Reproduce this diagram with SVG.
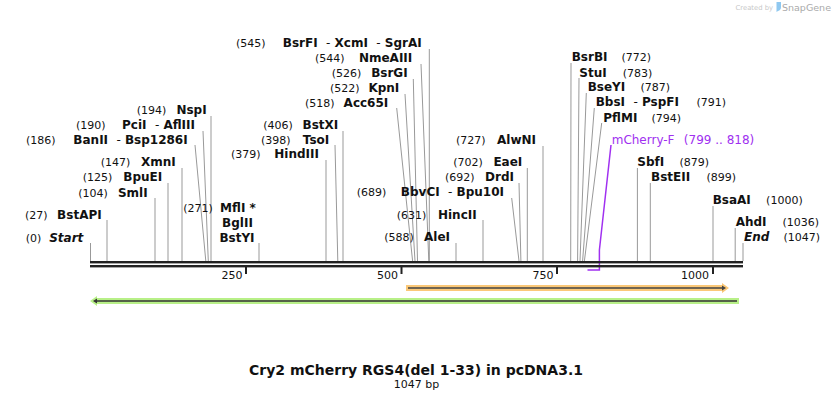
<svg xmlns="http://www.w3.org/2000/svg" width="834" height="400" viewBox="0 0 834 400">
<style>
text{font-family:"DejaVu Sans",Verdana,sans-serif;fill:#111;white-space:pre}
.n{font-size:11px}
.e{font-size:12px;font-weight:bold}
.h{font-weight:normal}
.it{font-style:italic}
.r{text-anchor:end}
.m{text-anchor:middle}
.ln{stroke:#999;stroke-width:1;fill:none}
.tk{font-size:11px}
.p{fill:#a030f0}
</style>
<rect width="834" height="400" fill="#fff"/>
<g id="logo">
<text x="773" y="10" class="r" style="font-size:6.8px;fill:#c8c8c8">Created by</text>
<path d="M776.5,2 h4.5 v5 q0,3 -3,4 l-1.5,1 z" fill="#8fc8f0"/>
<text x="782" y="11" style="font-size:9.5px;fill:#aaa">SnapGene</text>
</g>
<g id="connectors">
<line class="ln" x1="211" y1="116" x2="211" y2="261"/>
<line class="ln" x1="203" y1="131" x2="208.3" y2="261"/>
<line class="ln" x1="195" y1="145" x2="205.8" y2="261"/>
<line class="ln" x1="182" y1="168" x2="182" y2="261"/>
<line class="ln" x1="168" y1="183" x2="168" y2="261"/>
<line class="ln" x1="155" y1="198" x2="155" y2="261"/>
<line class="ln" x1="107" y1="220" x2="107" y2="261"/>
<line class="ln" x1="90.5" y1="243" x2="90.5" y2="261"/>
<line class="ln" x1="259" y1="243" x2="259" y2="261"/>
<line class="ln" x1="343" y1="131" x2="343" y2="261"/>
<line class="ln" x1="335" y1="145" x2="337.8" y2="261"/>
<line class="ln" x1="326" y1="160" x2="326" y2="261"/>
<line class="ln" x1="429.3" y1="49" x2="429.3" y2="261"/>
<line class="ln" x1="421" y1="64" x2="428.8" y2="261"/>
<line class="ln" x1="413.3" y1="79" x2="417.5" y2="261"/>
<line class="ln" x1="405" y1="94" x2="415" y2="261"/>
<line class="ln" x1="396.7" y1="108" x2="412.6" y2="261"/>
<line class="ln" x1="543" y1="146" x2="543" y2="261"/>
<line class="ln" x1="527.3" y1="168" x2="527.3" y2="261"/>
<line class="ln" x1="519" y1="183" x2="520.9" y2="261"/>
<line class="ln" x1="511.7" y1="198" x2="519" y2="261"/>
<line class="ln" x1="483" y1="220" x2="483" y2="261"/>
<line class="ln" x1="456" y1="243" x2="456" y2="261"/>
<line class="ln" x1="571" y1="63" x2="570.7" y2="261"/>
<line class="ln" x1="579" y1="78" x2="577.6" y2="261"/>
<line class="ln" x1="586.3" y1="93" x2="580" y2="261"/>
<line class="ln" x1="594.3" y1="108" x2="582.6" y2="261"/>
<line class="ln" x1="601.7" y1="123" x2="584.4" y2="261"/>
<line class="ln" x1="637.4" y1="168" x2="637.4" y2="261"/>
<line class="ln" x1="650.3" y1="183" x2="650.3" y2="261"/>
<line class="ln" x1="713" y1="206" x2="713" y2="261"/>
<line class="ln" x1="735.2" y1="228" x2="735.2" y2="261"/>
<line class="ln" x1="743" y1="243" x2="743" y2="261"/>
<polyline points="611,145 599.4,250 599.4,270 587.5,270" fill="none" stroke="#a030f0" stroke-width="1.5"/>
</g>
<g id="backbone">
<rect x="90" y="261" width="653" height="2.4" fill="#222"/>
<rect x="90" y="265" width="653" height="2.4" fill="#222"/>
<rect x="245" y="267" width="2" height="7" fill="#222"/>
<rect x="400.5" y="267" width="2" height="7" fill="#222"/>
<rect x="556" y="267" width="2" height="7" fill="#222"/>
<rect x="712" y="267" width="2" height="7" fill="#222"/>
<text class="tk r" x="242.5" y="278.5">250</text>
<text class="tk r" x="398" y="278.5">500</text>
<text class="tk r" x="553.5" y="278.5">750</text>
<text class="tk r" x="709" y="278.5">1000</text>
</g>
<g id="feature-orange">
<path d="M406,285 H722 V283 L729,288 L722,293 V291 H406 Z" fill="#fbc878"/>
<path d="M408,287.2 H722 V285.5 L726,288 L722,290.5 V288.8 H408 Z" fill="#444"/>
</g>
<g id="feature-green">
<path d="M739,298 H97 V296 L90,301 L97,306 V304 H739 Z" fill="#b8f088"/>
<path d="M737,300.2 H97 V298.5 L93,301 L97,303.5 V301.8 H737 Z" fill="#333"/>
</g>
<g id="NspI"><text class="n" x="136.7" y="114">(194)</text><text class="e r" x="206.7" y="114">NspI</text></g>
<g id="PciI"><text class="n" x="76" y="129">(190)</text><text class="e r" x="195" y="129">PciI  <tspan class="h">-</tspan> AflIII</text></g>
<g id="BanII"><text class="n" x="26" y="143.5">(186)</text><text class="e r" x="187.7" y="143.5">BanII  <tspan class="h">-</tspan> Bsp1286I</text></g>
<g id="XmnI"><text class="n" x="100.7" y="166">(147)</text><text class="e r" x="175.7" y="166">XmnI</text></g>
<g id="BpuEI"><text class="n" x="82.7" y="181">(125)</text><text class="e r" x="162.3" y="181">BpuEI</text></g>
<g id="SmlI"><text class="n" x="78.3" y="196.5">(104)</text><text class="e r" x="147.7" y="196.5">SmlI</text></g>
<g id="BstAPI"><text class="n" x="25" y="218.5">(27)</text><text class="e r" x="101.7" y="218.5">BstAPI</text></g>
<g id="Start"><text class="n" x="25.7" y="241.5">(0)</text><text class="e it r" x="83.3" y="241.5">Start</text></g>
<g id="MflI"><text class="n" x="183.3" y="212">(271)</text><text class="e m" x="238" y="212">MflI *</text><text class="e m" x="237.5" y="226.5">BglII</text><text class="e m" x="237" y="241.5">BstYI</text></g>
<g id="BstXI"><text class="n" x="263.3" y="129">(406)</text><text class="e r" x="338.3" y="129">BstXI</text></g>
<g id="TsoI"><text class="n" x="261" y="143.5">(398)</text><text class="e r" x="329.3" y="143.5">TsoI</text></g>
<g id="HindIII"><text class="n" x="231" y="158">(379)</text><text class="e r" x="319" y="158">HindIII</text></g>
<g id="BsrFI"><text class="n" x="236" y="47">(545)</text><text class="e r" x="421.7" y="47">BsrFI  <tspan class="h">-</tspan> XcmI  <tspan class="h">-</tspan> SgrAI</text></g>
<g id="NmeAIII"><text class="n" x="315" y="62">(544)</text><text class="e r" x="412.3" y="62">NmeAIII</text></g>
<g id="BsrGI"><text class="n" x="331.7" y="77">(526)</text><text class="e r" x="407.7" y="77">BsrGI</text></g>
<g id="KpnI"><text class="n" x="330" y="92">(522)</text><text class="e r" x="399.3" y="92">KpnI</text></g>
<g id="Acc65I"><text class="n" x="305" y="106.5">(518)</text><text class="e r" x="388.3" y="106.5">Acc65I</text></g>
<g id="AlwNI"><text class="n" x="456" y="143.5">(727)</text><text class="e r" x="536" y="143.5">AlwNI</text></g>
<g id="EaeI"><text class="n" x="453.3" y="166">(702)</text><text class="e r" x="522.3" y="166">EaeI</text></g>
<g id="DrdI"><text class="n" x="445" y="181">(692)</text><text class="e r" x="514" y="181">DrdI</text></g>
<g id="BbvCI"><text class="n" x="356.7" y="196">(689)</text><text class="e r" x="504" y="196">BbvCI  <tspan class="h">-</tspan> Bpu10I</text></g>
<g id="HincII"><text class="n" x="396.7" y="218.5">(631)</text><text class="e r" x="476.7" y="218.5">HincII</text></g>
<g id="AleI"><text class="n" x="384.3" y="241">(588)</text><text class="e r" x="450" y="241">AleI</text></g>
<g id="BsrBI"><text class="e" x="571.7" y="61">BsrBI</text><text class="n r" x="651" y="61">(772)</text></g>
<g id="StuI"><text class="e" x="579.3" y="76.5">StuI</text><text class="n r" x="652.3" y="76.5">(783)</text></g>
<g id="BseYI"><text class="e" x="587.7" y="91">BseYI</text><text class="n r" x="670" y="91">(787)</text></g>
<g id="BbsI"><text class="e" x="595.7" y="106">BbsI  <tspan class="h">-</tspan> PspFI</text><text class="n r" x="726" y="106">(791)</text></g>
<g id="PflMI"><text class="e" x="603.3" y="121.5">PflMI</text><text class="n r" x="681" y="121.5">(794)</text></g>
<g id="mCherry-F"><text class="p" x="611.7" y="143.5" style="font-size:12px">mCherry-F</text><text class="r p" x="754.3" y="143.5" style="font-size:12px">(799 .. 818)</text></g>
<g id="SbfI"><text class="e" x="637.3" y="166">SbfI</text><text class="n r" x="709" y="166">(879)</text></g>
<g id="BstEII"><text class="e" x="651" y="181">BstEII</text><text class="n r" x="736" y="181">(899)</text></g>
<g id="BsaAI"><text class="e" x="712.7" y="204">BsaAI</text><text class="n r" x="802.7" y="204">(1000)</text></g>
<g id="AhdI"><text class="e" x="735.7" y="226">AhdI</text><text class="n r" x="819" y="226">(1036)</text></g>
<g id="End"><text class="e it" x="744" y="241">End</text><text class="n r" x="820" y="241">(1047)</text></g>
<g id="title">
<text class="m" x="416" y="375" style="font-size:14px;font-weight:bold">Cry2 mCherry RGS4(del 1-33) in pcDNA3.1</text>
<text class="m" x="416.5" y="387.5" style="font-size:11px">1047 bp</text>
</g>
</svg>
